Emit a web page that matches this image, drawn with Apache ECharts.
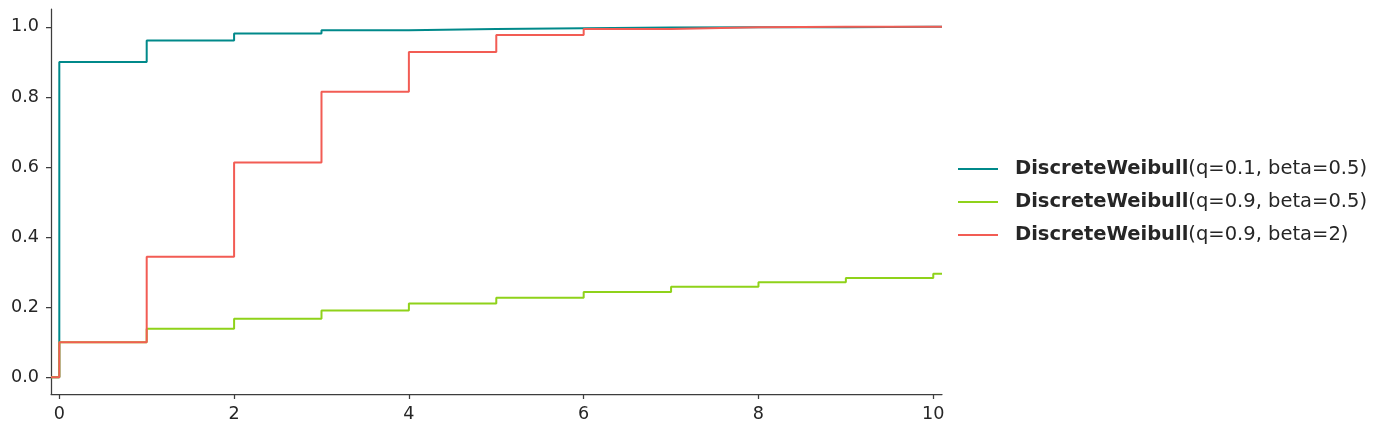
<!DOCTYPE html>
<html>
<head>
<meta charset="utf-8">
<script src="https://cdn.jsdelivr.net/npm/echarts@6/dist/echarts.min.js"></script>
<style>
html,body{margin:0;padding:0;background:#fff;}
#chart{width:1384px;height:433px;}
</style>
</head>
<body>
<div id="chart"></div>
<script>
const steps = [0,1,2,3,4,5,6,7,8,9,10];
const seriesNames = [
  'DiscreteWeibull(q=0.1, beta=0.5)',
  'DiscreteWeibull(q=0.9, beta=0.5)',
  'DiscreteWeibull(q=0.9, beta=2)'
];
const cdfQ01B05 = [0.900, 0.961, 0.981, 0.990, 0.994, 0.996, 0.998, 0.999, 0.999, 1.000, 1.000];
const cdfQ09B05 = [0.100, 0.138, 0.167, 0.190, 0.210, 0.227, 0.243, 0.258, 0.271, 0.283, 0.295];
const cdfQ09B2  = [0.100, 0.344, 0.613, 0.815, 0.928, 0.977, 0.994, 0.999, 1.000, 1.000, 1.000];
const xTicks = [0,2,4,6,8,10];
const yTicks = [0,0.2,0.4,0.6,0.8,1.0];
const colors = ['#00898a', '#8fd21a', '#f25c54'];

const X_MIN = -0.095, X_MAX = 10.1;
function buildStep(vals){
  const d = [[X_MIN, 0]];
  steps.forEach((s,i)=>d.push([s, vals[i]]));
  d.push([X_MAX, vals[vals.length-1]]);
  return d;
}
const allVals = [cdfQ01B05, cdfQ09B05, cdfQ09B2];
const textColor = '#262626';
const axisColor = '#3d3d3d';
const font = 'DejaVu Sans';
const fs = 19.5;
const tfs = 17.6;

const chart = echarts.init(document.getElementById('chart'), null, {renderer:'canvas'});
chart.setOption({
  animation:false,
  backgroundColor:'#fff',
  grid:{left:51, right:442, top:9, bottom:39, containLabel:false},
  xAxis:{
    type:'value', min:X_MIN, max:X_MAX,
    splitLine:{show:false},
    axisLine:{show:true, onZero:false, lineStyle:{color:axisColor, width:1.25}},
    axisTick:{show:true, length:5, customValues:xTicks, lineStyle:{color:axisColor, width:1.25}},
    axisLabel:{customValues:xTicks, color:textColor, fontSize:tfs, fontFamily:font, margin:11,
      formatter:v=>String(Math.round(v))}
  },
  yAxis:{
    type:'value', min:-0.048, max:1.051,
    splitLine:{show:false},
    axisLine:{show:true, onZero:false, lineStyle:{color:axisColor, width:1.25}},
    axisTick:{show:true, length:5, customValues:yTicks, lineStyle:{color:axisColor, width:1.25}},
    axisLabel:{customValues:yTicks, color:textColor, fontSize:tfs, fontFamily:font, margin:12,
      formatter:v=>v.toFixed(1)}
  },
  legend:{
    orient:'vertical', left:953, top:153,
    itemWidth:40, itemHeight:14, itemGap:11,
    icon:'path://M0,0 L40,0 L40,2 L0,2 Z',
    data:seriesNames,
    textStyle:{color:textColor, fontSize:fs, fontFamily:font, lineHeight:22, padding:[0,0,0,12],
      rich:{b:{fontWeight:'bold', fontSize:fs, fontFamily:font, color:textColor, lineHeight:22}}},
    formatter:name=>'{b|DiscreteWeibull}'+name.slice('DiscreteWeibull'.length)
  },
  series: seriesNames.map((n,i)=>({
    name:n, type:'line', step:'end', showSymbol:false, symbol:'none',
    clip:true,
    color:colors[i],
    lineStyle:{color:colors[i], width:2},
    itemStyle:{color:colors[i]},
    data:buildStep(allVals[i])
  }))
});
</script>
</body>
</html>
